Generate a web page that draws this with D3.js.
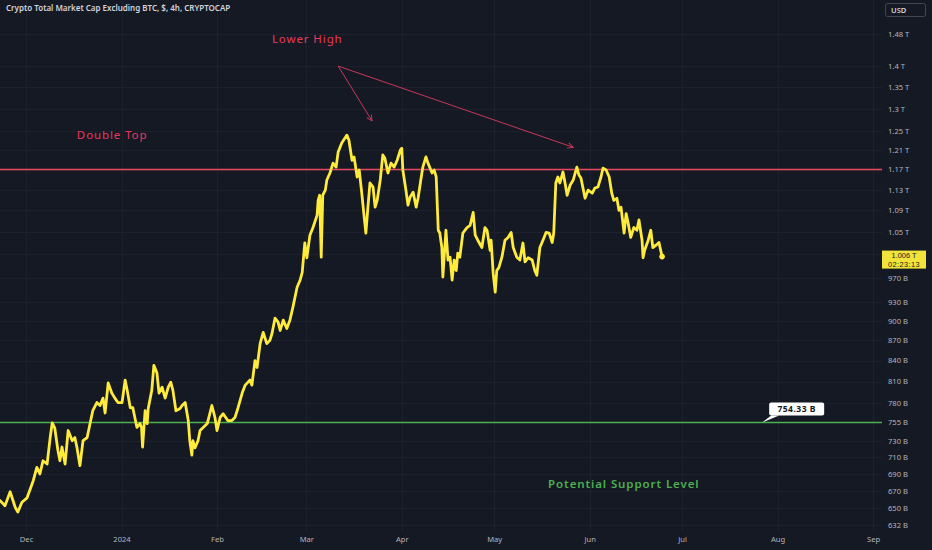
<!DOCTYPE html>
<html><head><meta charset="utf-8">
<script src="https://cdn.jsdelivr.net/npm/d3@7"></script>
<style>
html,body{margin:0;padding:0;background:#151924;}
svg{display:block;}
</style></head>
<body>
<svg id="chart" width="932" height="550"></svg>
<script>
// ---- DATA (values in billions USD, 4h candle timestamps, UTC) ----
const times = [
"2023-11-22 12","2023-11-24 04","2023-11-25 20","2023-11-27 12","2023-11-28 08","2023-11-29 16",
"2023-12-01 08","2023-12-03 08","2023-12-04 12","2023-12-05 12","2023-12-06 12","2023-12-07 20",
"2023-12-08 20","2023-12-09 12","2023-12-10 08","2023-12-11 08","2023-12-12 00","2023-12-12 16",
"2023-12-13 16","2023-12-14 16","2023-12-16 00","2023-12-16 20","2023-12-17 12","2023-12-18 12",
"2023-12-19 12","2023-12-20 20","2023-12-21 20","2023-12-22 16","2023-12-24 00","2023-12-25 00",
"2023-12-26 00","2023-12-26 16","2023-12-27 16","2023-12-28 20","2023-12-29 20","2023-12-30 20",
"2024-01-01 04","2024-01-02 04","2024-01-02 20","2024-01-03 20","2024-01-04 16","2024-01-06 00",
"2024-01-07 00","2024-01-07 12","2024-01-07 20","2024-01-08 16","2024-01-09 08","2024-01-09 16",
"2024-01-10 20","2024-01-11 12","2024-01-12 12","2024-01-13 04","2024-01-14 04","2024-01-15 04",
"2024-01-16 04","2024-01-17 00","2024-01-17 16","2024-01-18 16","2024-01-20 00","2024-01-20 16",
"2024-01-21 16","2024-01-22 16","2024-01-23 04","2024-01-23 20","2024-01-24 04","2024-01-24 20",
"2024-01-25 20","2024-01-26 12","2024-01-27 12","2024-01-28 20","2024-01-29 16","2024-01-30 08",
"2024-01-31 08","2024-02-01 00","2024-02-02 00","2024-02-03 00","2024-02-04 12","2024-02-05 20",
"2024-02-06 20","2024-02-07 20","2024-02-09 04","2024-02-10 04","2024-02-11 16","2024-02-12 08",
"2024-02-13 08","2024-02-14 00","2024-02-15 00","2024-02-16 00","2024-02-17 04","2024-02-18 04",
"2024-02-18 20","2024-02-19 20","2024-02-20 20","2024-02-21 12","2024-02-22 12","2024-02-23 16",
"2024-02-24 16","2024-02-25 16","2024-02-27 00","2024-02-28 00","2024-02-28 16","2024-02-29 12",
"2024-03-01 04","2024-03-02 04","2024-03-03 04","2024-03-04 12","2024-03-04 20","2024-03-05 08",
"2024-03-05 20","2024-03-06 08","2024-03-07 04","2024-03-07 16","2024-03-08 16","2024-03-09 16",
"2024-03-10 16","2024-03-11 08","2024-03-12 12","2024-03-14 04","2024-03-14 20","2024-03-15 20",
"2024-03-16 12","2024-03-17 12","2024-03-18 04","2024-03-19 00","2024-03-19 16","2024-03-20 08",
"2024-03-21 00","2024-03-21 16","2024-03-22 16","2024-03-23 08","2024-03-24 00","2024-03-25 00",
"2024-03-25 20","2024-03-26 12","2024-03-27 12","2024-03-28 12","2024-03-29 12","2024-03-30 12",
"2024-03-31 12","2024-04-01 00","2024-04-01 08","2024-04-02 08","2024-04-03 00","2024-04-03 16",
"2024-04-04 16","2024-04-05 16","2024-04-06 08","2024-04-07 04","2024-04-07 20","2024-04-08 20",
"2024-04-09 12","2024-04-10 20","2024-04-11 12","2024-04-12 04","2024-04-12 20","2024-04-13 08",
"2024-04-14 00","2024-04-14 08","2024-04-15 08","2024-04-16 00","2024-04-16 16","2024-04-17 08",
"2024-04-18 00","2024-04-18 16","2024-04-19 04","2024-04-19 20","2024-04-20 20","2024-04-22 04",
"2024-04-23 04","2024-04-24 04","2024-04-24 20","2024-04-25 16","2024-04-27 00","2024-04-28 00",
"2024-04-28 16","2024-04-29 16","2024-04-30 00","2024-04-30 16","2024-05-01 08","2024-05-01 20",
"2024-05-02 12","2024-05-03 12","2024-05-04 12","2024-05-05 12","2024-05-06 12","2024-05-07 04",
"2024-05-08 08","2024-05-09 08","2024-05-10 08","2024-05-11 00","2024-05-12 00","2024-05-13 08",
"2024-05-14 04","2024-05-14 20","2024-05-15 20","2024-05-16 20","2024-05-17 20","2024-05-18 20",
"2024-05-19 20","2024-05-20 08","2024-05-21 00","2024-05-21 16","2024-05-22 08","2024-05-23 08",
"2024-05-24 00","2024-05-24 16","2024-05-25 16","2024-05-26 16","2024-05-27 20","2024-05-28 12",
"2024-05-29 04","2024-05-30 12","2024-05-31 12","2024-06-01 20","2024-06-02 16","2024-06-03 16",
"2024-06-04 16","2024-06-05 08","2024-06-06 08","2024-06-07 08","2024-06-08 04","2024-06-08 20",
"2024-06-09 20","2024-06-10 12","2024-06-11 04","2024-06-12 04","2024-06-12 20","2024-06-13 12",
"2024-06-14 08","2024-06-15 08","2024-06-16 08","2024-06-17 00","2024-06-18 00","2024-06-18 08",
"2024-06-18 20","2024-06-20 00","2024-06-20 20","2024-06-21 12","2024-06-22 12","2024-06-23 12",
"2024-06-24 12"
];
const values = [
659,653,669,651,646,657,
662,682,698,690,706,702,
735,754,747,719,706,723,
702,744,731,735,723,700,
731,735,754,770,781,777,
787,767,808,794,787,781,
781,812,798,774,774,748,
753,748,723,770,753,773,
798,833,822,794,802,787,
802,809,798,770,773,777,
781,757,731,713,731,722,
731,744,748,753,766,777,
761,744,761,766,757,757,
761,774,794,805,812,805,
840,830,865,882,865,870,
880,904,898,885,901,888,
901,922,954,966,979,1030,
1004,1044,1058,1081,1109,1119,
1005,1119,1129,1149,1163,1183,
1175,1206,1225,1242,1231,1189,
1196,1155,1169,1123,1084,1048,
1096,1143,1135,1096,1109,1149,
1200,1193,1163,1183,1175,1189,
1210,1214,1169,1129,1100,1115,
1125,1096,1115,1149,1175,1196,
1183,1163,1169,1155,1053,1048,
1022,971,1053,1000,1005,966,
1000,982,1012,1005,1048,1058,
1062,1086,1044,1035,1022,1058,
1053,1017,1035,977,946,982,
987,1005,1035,1040,1049,1022,
1005,1000,1030,997,1004,1000,
982,974,1022,1035,1049,1048,
1031,1048,1143,1155,1143,1165,
1143,1119,1139,1149,1175,1159,
1153,1113,1129,1123,1133,1135,
1155,1173,1169,1155,1123,1109,
1113,1090,1096,1048,1084,1066,
1040,1058,1053,1072,1035,1004,
1017,1035,1053,1022,1026,1031,
1006
];
// price-scale ticks (B); 1010 sits under the last-price label and is not labelled
const priceTicks = [1480,1400,1350,1300,1250,1210,1170,1130,1090,1050,1010,970,930,900,870,840,810,780,755,730,710,690,670,650,632];
const hiddenTickLabels = [1010];
const monthTicks = ["2023-12-01","2024-01-01","2024-02-01","2024-03-01","2024-04-01","2024-05-01","2024-06-01","2024-07-01","2024-08-01","2024-09-01"];
const monthLabels = ["Dec","2024","Feb","Mar","Apr","May","Jun","Jul","Aug","Sep"];
const resistanceLevel = 1170;
const supportLevel = 754.33;
const lastPrice = "1.006 T";
const countdown = "02:23:13";
const title = "Crypto Total Market Cap Excluding BTC, $, 4h, CRYPTOCAP";
// annotation anchors (date, value in B)
const lowerHighText = {t:"2024-02-18 20", v:1467, label:"Lower High"};
const lowerHighFrom = {t:"2024-03-11 08", v:1400};
const lowerHighTips = [{t:"2024-03-22 08", v:1273},{t:"2024-05-26 16", v:1216}];
const doubleTopText = {t:"2023-12-17 12", v:1242, label:"Double Top"};
const supportText = {t:"2024-05-18 12", v:678, label:"Potential Support Level"};
const supportCallout = {t:"2024-07-27 00"};

// ---- SETUP ----
const W = 932, H = 550, plotR = 882, plotB = 531;
const parseT = d3.utcParse("%Y-%m-%d %H");
const parseD = d3.utcParse("%Y-%m-%d");
const data = times.map((t,i)=>({t:parseT(t), v:values[i]}));

const x = d3.scaleUtc()
  .domain([Date.UTC(2023,10,22,13), Date.UTC(2024,8,3,14)])
  .range([0, 881]);
const y = d3.scaleLog().domain([625,1570]).range([plotB, 0]);

const svg = d3.select("#chart");
svg.append("rect").attr("width",W).attr("height",H).attr("fill","#151924");

const defs = svg.append("defs");
defs.append("clipPath").attr("id","plotclip").append("rect")
  .attr("x",0).attr("y",0).attr("width",plotR).attr("height",plotB);
defs.append("marker").attr("id","arr").attr("viewBox","0 0 10 10")
  .attr("refX",9).attr("refY",5).attr("markerWidth",7).attr("markerHeight",7)
  .attr("markerUnits","userSpaceOnUse").attr("orient","auto")
  .append("path").attr("d","M1,1 L9,5 L1,9").attr("fill","none")
  .attr("stroke","#c8385a").attr("stroke-width",1.3);

const font = "'Noto Sans', 'Open Sans', sans-serif";
const tightFont = "'Liberation Sans', Arial, sans-serif";

// grid
const grid = svg.append("g");
grid.selectAll("line.h").data(priceTicks).join("line")
  .attr("x1",0).attr("x2",plotR).attr("y1",d=>Math.round(y(d))+0.5).attr("y2",d=>Math.round(y(d))+0.5)
  .attr("stroke","#1d212d").attr("stroke-width",1);
grid.selectAll("line.v").data(monthTicks).join("line")
  .attr("y1",0).attr("y2",plotB).attr("x1",d=>Math.round(x(parseD(d)))+0.5).attr("x2",d=>Math.round(x(parseD(d)))+0.5)
  .attr("stroke","#1d212d").attr("stroke-width",1);

const plot = svg.append("g").attr("clip-path","url(#plotclip)");

// horizontal levels
plot.append("line").attr("x1",0).attr("x2",plotR)
  .attr("y1",y(resistanceLevel)).attr("y2",y(resistanceLevel))
  .attr("stroke","#e8475e").attr("stroke-width",1.6);
plot.append("line").attr("x1",0).attr("x2",plotR)
  .attr("y1",y(supportLevel)).attr("y2",y(supportLevel))
  .attr("stroke","#4caf50").attr("stroke-width",1.6);

// price line
const line = d3.line().x(d=>x(d.t)).y(d=>y(d.v)).curve(d3.curveLinear);
plot.append("path").datum(data).attr("d",line)
  .attr("fill","none").attr("stroke","#ffeb3b").attr("stroke-width",2.8)
  .attr("stroke-linejoin","round").attr("stroke-linecap","round");
const last = data[data.length-1];
plot.append("circle").attr("cx",x(last.t)).attr("cy",y(last.v)).attr("r",2.8).attr("fill","#ffeb3b");

// annotations
svg.append("text").attr("x",x(parseT(lowerHighText.t))).attr("y",y(lowerHighText.v)+4)
  .attr("fill","#e9385a").attr("font-family",font).attr("font-size",11.5).attr("letter-spacing",0.9)
  .text(lowerHighText.label);
lowerHighTips.forEach(tp=>{
  svg.append("line")
    .attr("x1",x(parseT(lowerHighFrom.t))).attr("y1",y(lowerHighFrom.v))
    .attr("x2",x(parseT(tp.t))).attr("y2",y(tp.v))
    .attr("stroke","#c8385a").attr("stroke-width",1).attr("marker-end","url(#arr)");
});
svg.append("text").attr("x",x(parseT(doubleTopText.t))).attr("y",y(doubleTopText.v)+4)
  .attr("fill","#e9385a").attr("font-family",font).attr("font-size",11.5).attr("letter-spacing",0.9)
  .text(doubleTopText.label);
svg.append("text").attr("x",x(parseT(supportText.t))).attr("y",y(supportText.v)+4)
  .attr("fill","#4caf50").attr("font-family",font).attr("font-size",11.5).attr("font-weight",600).attr("letter-spacing",0.9)
  .text(supportText.label);

// support callout
const cx = x(parseT(supportCallout.t)), cy = y(supportLevel);
const bx = cx+7, by = cy-20, bw = 55, bh = 13;
svg.append("path")
  .attr("d",`M${cx},${cy} L${bx+2},${by+bh} L${bx+10},${by+bh} Z`)
  .attr("fill","#ffffff");
svg.append("rect").attr("x",bx).attr("y",by).attr("width",bw).attr("height",bh).attr("rx",2)
  .attr("fill","#ffffff");
svg.append("text").attr("x",bx+bw/2).attr("y",by+9.5).attr("text-anchor","middle")
  .attr("font-family",font).attr("font-size",8.5).attr("font-weight",700).attr("letter-spacing",0.5)
  .attr("fill","#131722").text(d3.format(".2f")(supportLevel)+" B");

// right price axis
const fmtPrice = v => hiddenTickLabels.includes(v) ? "" : (v>=1000 ? (+(v/1000).toFixed(3)).toString()+" T" : v+" B");
const yAxis = d3.axisRight(y).tickValues(priceTicks).tickFormat(fmtPrice).tickSize(0).tickPadding(0);
const ya = svg.append("g").attr("transform",`translate(888,0)`).call(yAxis);
ya.select(".domain").remove();
ya.selectAll("text").attr("font-family",font).attr("font-size",7.6).attr("fill","#b2b5be");

// bottom time axis
const xAxis = d3.axisBottom(x).tickValues(monthTicks.map(d=>parseD(d)))
  .tickFormat((d,i)=>monthLabels[i]).tickSize(0).tickPadding(0);
const xa = svg.append("g").attr("transform",`translate(0,537)`).call(xAxis);
xa.select(".domain").remove();
xa.selectAll("text").attr("font-family",font).attr("font-size",7.6).attr("fill","#b2b5be").attr("dy","0.71em");

// last price label
const ly = y(last.v);
svg.append("rect").attr("x",882).attr("y",ly-6).attr("width",44).attr("height",18).attr("fill","#f2e33a");
svg.append("text").attr("x",904).attr("y",ly+1.6).attr("text-anchor","middle")
  .attr("font-family",tightFont).attr("font-size",7.4).attr("fill","#131722").text(lastPrice);
svg.append("text").attr("x",904).attr("y",ly+10.4).attr("text-anchor","middle")
  .attr("font-family",tightFont).attr("font-size",7.4).attr("fill","#131722").attr("letter-spacing",0.4).text(countdown);

// title
svg.append("text").attr("x",6).attr("y",11).attr("font-family",font).attr("font-size",8)
  .attr("font-weight",600).attr("fill","#d1d4dc").text(title);

// USD box
svg.append("rect").attr("x",885.5).attr("y",3.5).attr("width",40).attr("height",13).attr("rx",2)
  .attr("fill","none").attr("stroke","#434651");
svg.append("text").attr("x",891).attr("y",13).attr("font-family",font).attr("font-size",7.6)
  .attr("font-weight",600).attr("fill","#d1d4dc").text("USD");
</script>
</body></html>
